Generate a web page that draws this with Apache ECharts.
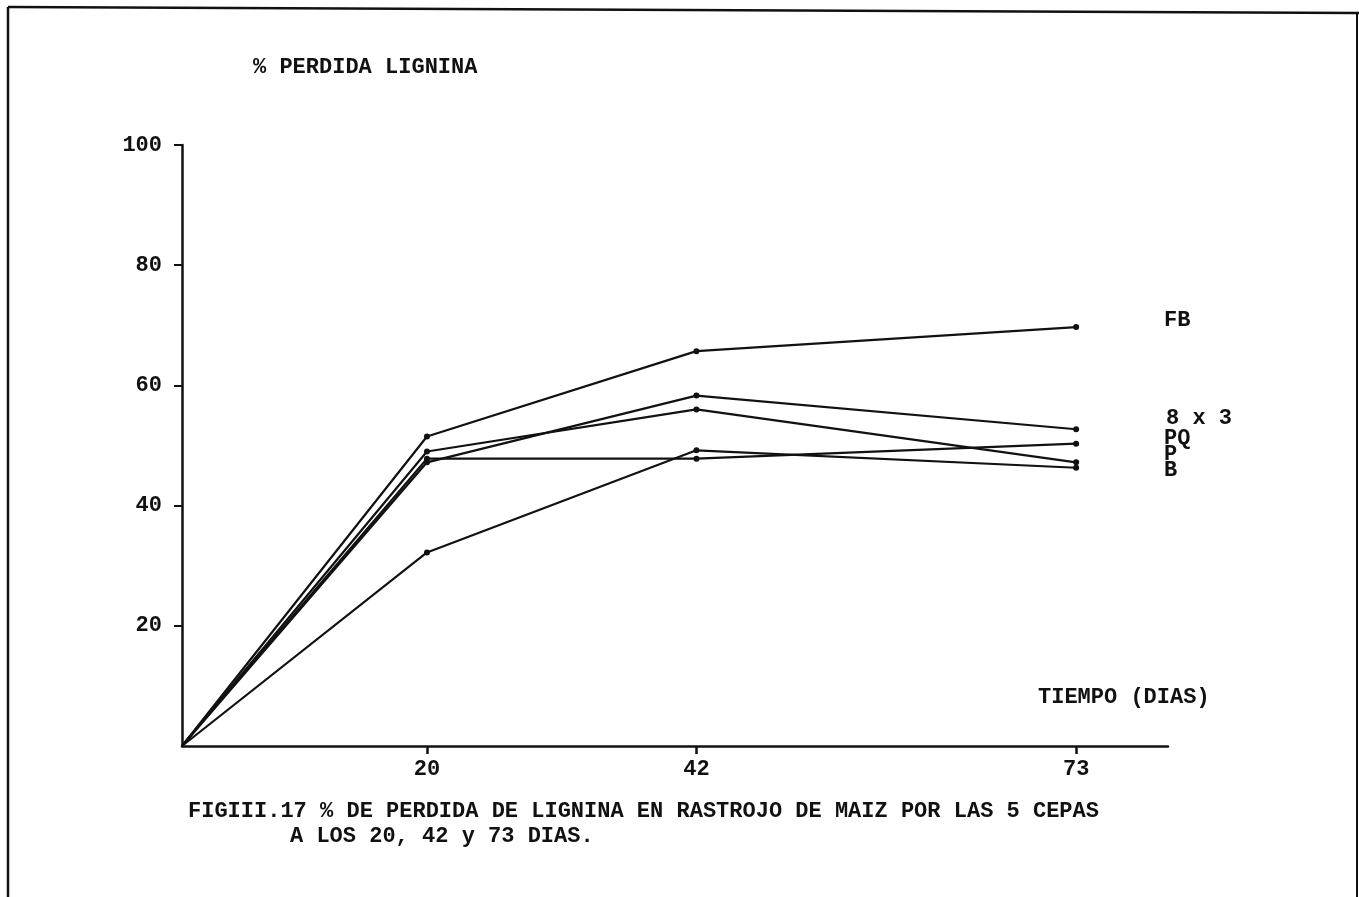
<!DOCTYPE html>
<html>
<head>
<meta charset="utf-8">
<script src="https://cdn.jsdelivr.net/npm/echarts@6/dist/echarts.min.js"></script>
<style>
html,body{margin:0;padding:0;background:#fff;}
#chart{width:1359px;height:897px;}
</style>
</head>
<body>
<div id="chart"></div>
<script>
// ---- data ----
const days = [0, 20, 42, 73];
const seriesNames = ['FB', '8 x 3', 'PQ', 'P', 'B'];
const fbValues  = [0, 51.5, 65.7, 69.7];
const x83Values = [0, 47.2, 58.3, 52.7];
const pqValues  = [0, 47.8, 47.8, 50.3];
const pValues   = [0, 49.0, 56.0, 47.2];
const bValues   = [0, 32.2, 49.2, 46.3];
const xTicks = [20, 42, 73];
const yTicks = [20, 40, 60, 80, 100];

const FONT = '"Liberation Mono", "DejaVu Sans Mono", monospace';
const INK = '#111';

const allValues = [fbValues, x83Values, pqValues, pValues, bValues];

function buildData(vals) {
  return days.map((d, i) => {
    const item = { value: [d, vals[i]] };
    if (i === 0) item.symbolSize = 0;
    return item;
  });
}

const series = seriesNames.map((name, k) => ({
  name: name,
  type: 'line',
  data: buildData(allValues[k]),
  symbol: 'circle',
  symbolSize: 6,
  showAllSymbol: true,
  lineStyle: { color: INK, width: 2.2 },
  itemStyle: { color: INK },
  emphasis: { disabled: true },
  silent: true
}));

function txt(text, x, y, align) {
  return {
    type: 'text',
    style: {
      text: text, x: x, y: y,
      font: 'bold 22px ' + FONT,
      fill: INK,
      textAlign: align || 'left',
      textVerticalAlign: 'middle'
    }
  };
}

const chart = echarts.init(document.getElementById('chart'), null, { renderer: 'canvas' });
chart.setOption({
  animation: false,
  backgroundColor: '#fff',
  grid: { left: 182, top: 145, right: 191, bottom: 151 },
  xAxis: {
    type: 'value',
    min: 0,
    max: 80.5,
    axisLine: { lineStyle: { color: INK, width: 2.5 } },
    axisTick: { show: true, customValues: xTicks, length: 8, lineStyle: { color: INK, width: 2.5 } },
    axisLabel: { customValues: xTicks, fontFamily: FONT, fontWeight: 'bold', fontSize: 22, color: INK, margin: 12 },
    splitLine: { show: false }
  },
  yAxis: {
    type: 'value',
    min: 0,
    max: 100,
    interval: 20,
    axisLine: { show: true, lineStyle: { color: INK, width: 2.5 } },
    axisTick: { show: true, customValues: yTicks, length: 8, lineStyle: { color: INK, width: 2 } },
    axisLabel: { customValues: yTicks, fontFamily: FONT, fontWeight: 'bold', fontSize: 22, color: INK, margin: 20 },
    splitLine: { show: false }
  },
  series: series,
  graphic: [
    { type: 'line', shape: { x1: 8, y1: 7, x2: 1359, y2: 13 }, style: { stroke: INK, lineWidth: 2.5 } },
    { type: 'line', shape: { x1: 8, y1: 7, x2: 8, y2: 897 }, style: { stroke: INK, lineWidth: 2.5 } },
    { type: 'line', shape: { x1: 1357, y1: 14, x2: 1357, y2: 897 }, style: { stroke: INK, lineWidth: 2 } },
    txt('% PERDIDA LIGNINA', 253, 67),
    txt('TIEMPO (DIAS)', 1038, 697),
    txt('FB', 1164, 320),
    txt('8 x 3', 1166, 418),
    txt('PQ', 1164, 438),
    txt('P', 1164, 454),
    txt('B', 1164, 470),
    txt('FIGIII.17 % DE PERDIDA DE LIGNINA EN RASTROJO DE MAIZ POR LAS 5 CEPAS', 188, 811),
    txt('A LOS 20, 42 y 73 DIAS.', 290, 836)
  ]
});
</script>
</body>
</html>
